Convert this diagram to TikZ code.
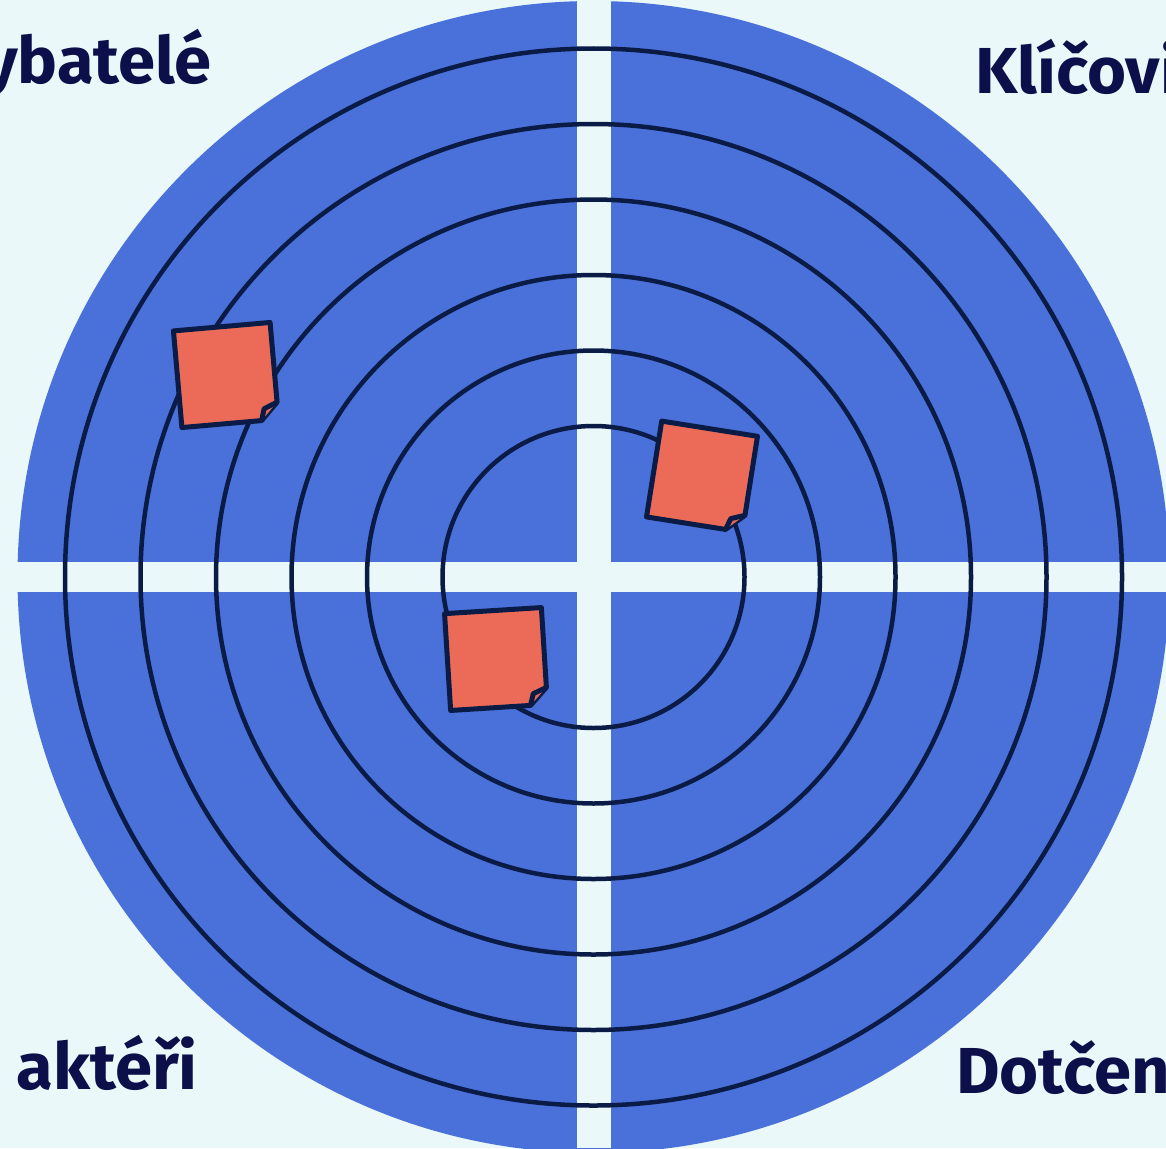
\documentclass[tikz,border=0pt]{standalone}
\usepackage{fontspec}
\setmainfont{Fira Sans}[FakeStretch=1.03, WordSpace=1.2]
\definecolor{bgc}{HTML}{EAF8F9}
\definecolor{diskc}{HTML}{4A70DA}
\definecolor{ringc}{HTML}{0A1C46}
\definecolor{notec}{HTML}{EC6B58}
\definecolor{txtc}{HTML}{0C0F4A}
\tikzset{
  ringline/.style={draw=ringc, line width=4.5pt},
  notebox/.style={fill=notec, draw=ringc, line width=5pt, line join=round},
  lbl/.style={inner sep=0pt, text=txtc, font=\fontsize{65}{78}\selectfont\bfseries},
}
\newcommand\stickynote[3]{%
  \begin{scope}[shift={(#1)}, rotate=#2]
    \path[notebox] (-48.5,-48.5) -- (48.5,-48.5) -- (48.5,31.5) -- (31.5,48.5) -- (-48.5,48.5) -- cycle;
    \path[notebox] (48.5,31.5) -- (35,37) -- (31.5,48.5);
    \node[inner sep=0pt, minimum size=0pt] (#3) at (0,0) {};
  \end{scope}}
\begin{document}
\begin{tikzpicture}[x=1pt,y=-1pt]
\useasboundingbox (0,0) rectangle (1166,1148);
\clip (0,0) rectangle (1166,1148);
\fill[bgc] (0,0) rectangle (1166,1148);
\coordinate (c) at (593.5,577);
\fill[diskc] (c) circle[radius=576pt];
\fill[bgc] (576.5,0) rectangle (610.5,1148);
\fill[bgc] (0,562) rectangle (1166,591.5);
\foreach \r in {151,226.5,302,377.5,453,528.5}
  \draw[ringline] (c) circle[radius=\r pt];
\stickynote{226,375}{5}{n1}
\stickynote{702,476.6}{-9}{n2}
\stickynote{496,659}{3.6}{n3}
\node[lbl, anchor=base east] (tl) at (212,83) {ybatelé};
\node[lbl, anchor=base west] (tr) at (975,93) {Klíčovi};
\node[lbl, anchor=base east] (bl) at (198,1089) {í aktéři};
\node[lbl, anchor=base west] (br) at (956,1093) {Dotčen};
\end{tikzpicture}
\end{document}
